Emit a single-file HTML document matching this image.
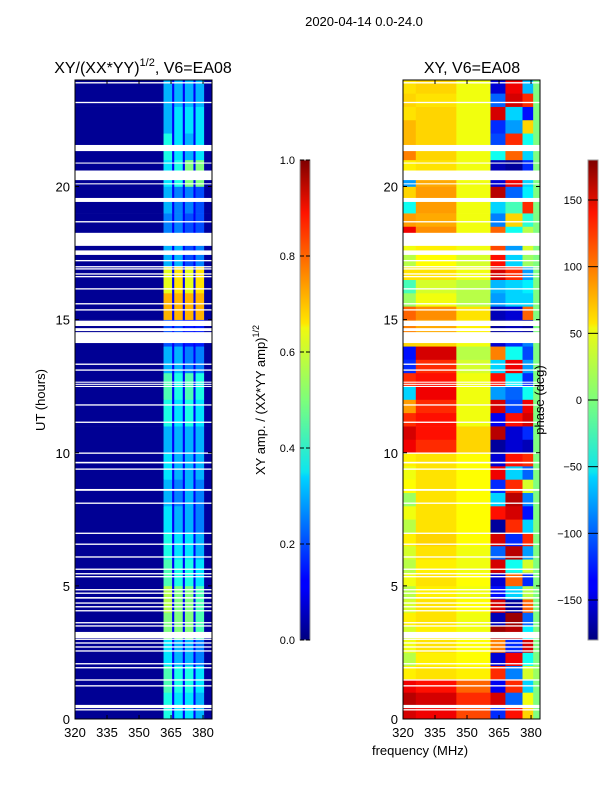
<!DOCTYPE html>
<html><head><meta charset="utf-8"><style>
html,body{margin:0;padding:0;background:#fff;}
svg{display:block;font-family:"Liberation Sans","DejaVu Sans",sans-serif;}
</style></head><body>
<svg id="fig" width="600" height="800" viewBox="0 0 600 800" xmlns="http://www.w3.org/2000/svg">
<defs>
<linearGradient id="jet" x1="0" y1="1" x2="0" y2="0">
<stop offset="0" stop-color="#00007f"/><stop offset="0.11" stop-color="#0000ff"/>
<stop offset="0.125" stop-color="#0000ff"/><stop offset="0.34" stop-color="#00d4ff"/>
<stop offset="0.35" stop-color="#0ce5ef"/><stop offset="0.5" stop-color="#7dff7a"/>
<stop offset="0.65" stop-color="#f0f90f"/><stop offset="0.66" stop-color="#ffe600"/>
<stop offset="0.89" stop-color="#ff1300"/><stop offset="1" stop-color="#7f0000"/>
</linearGradient>
</defs>
<text x="364" y="26" font-size="13" text-anchor="middle">2020-04-14 0.0-24.0</text>
<g id="left"></g>
<g id="right"></g>
<text x="143" y="73" font-size="16" text-anchor="middle">XY/(XX*YY)<tspan font-size="11" dy="-7">1/2</tspan><tspan dy="7">, V6=EA08</tspan></text>
<text x="472" y="73" font-size="16" text-anchor="middle">XY, V6=EA08</text>
<text x="0" y="0" font-size="13" text-anchor="middle" transform="translate(45,400) rotate(-90)">UT (hours)</text>
<text x="420" y="755" font-size="13" text-anchor="middle">frequency (MHz)</text>
<rect x="300" y="160" width="10" height="480" fill="url(#jet)" stroke="#999" stroke-width="1"/>
<rect x="588" y="160" width="10" height="480" fill="url(#jet)" stroke="#999" stroke-width="1"/>
<text font-size="13" text-anchor="middle" transform="translate(265,400) rotate(-90)">XY amp. / (XX*YY amp)<tspan font-size="9" dy="-6">1/2</tspan></text>
<text font-size="13" text-anchor="middle" transform="translate(544,400) rotate(-90)">phase (deg)</text>
<g id="cb"></g>
</svg>
<script>
// ---------- data ----------
const hourTicks = [0, 5, 10, 15, 20];
const freqTicks = [320, 335, 350, 365, 380];
const ampTicks = [0.0, 0.2, 0.4, 0.6, 0.8, 1.0];
const phaseTicks = [-150, -100, -50, 0, 50, 100, 150];
// amplitude: frequency segment edges (MHz)
const ampEdges = [320, 361.5, 365.5, 366.5, 370.5, 371.5, 375.5, 376.5, 380.5, 384.2];
const ampBaseLow = 0.02;
const ampBetween = 0.12;
const ampRight = 0.03;
// hourly amplitude per bright column (hours 0..23)
const ampColD = [0.4,0.45,0.35,0.5,0.55,0.45,0.4,0.35,0.3,0.35,0.3,0.4,0.45,0.3,0.2,0.7,0.6,0.3,0.25,0.3,0.35,0.4,0.3,0.3];
const ampColE = [0.35,0.4,0.3,0.5,0.5,0.4,0.35,0.3,0.25,0.3,0.3,0.35,0.4,0.3,0.2,0.7,0.65,0.3,0.25,0.25,0.4,0.35,0.35,0.3];
const ampColF = [0.35,0.4,0.3,0.5,0.5,0.4,0.35,0.3,0.3,0.3,0.3,0.4,0.45,0.25,0.15,0.7,0.6,0.2,0.2,0.25,0.5,0.3,0.35,0.3];
const ampColG = [0.3,0.35,0.25,0.45,0.45,0.35,0.3,0.25,0.25,0.3,0.3,0.35,0.4,0.25,0.15,0.7,0.65,0.25,0.2,0.2,0.5,0.35,0.35,0.3];
// phase: frequency segment edges and half-hour rows (deg)
const phaseEdges = [320, 326, 345, 361, 368, 376, 381, 384.2];
const phaseRows = [
[150,140,110,-120,130,60,0],[160,150,120,150,-100,40,0],[140,130,100,-140,120,-60,0],[50,55,50,120,-90,30,10],
[20,50,45,-150,140,-40,0],[40,55,45,90,-120,150,0],[30,50,40,170,160,-50,0],[50,55,40,-160,170,-100,0],
[30,55,45,150,-170,100,0],[20,50,40,-130,-60,20,0],[40,55,45,-150,100,-120,0],[20,50,40,150,-40,30,0],
[30,55,40,-100,160,-80,0],[50,60,45,150,-120,120,0],[20,55,45,-170,120,-60,0],[40,55,45,130,150,-130,0],
[10,55,45,-60,160,-90,0],[45,55,45,-120,120,30,0],[40,55,45,140,-60,-100,0],[50,55,45,-150,130,120,0],
[140,120,60,-170,-150,-160,0],[150,130,60,160,-150,-120,0],[120,130,40,-140,130,150,0],[80,120,40,150,-110,140,0],
[-60,140,40,-80,-100,-40,0],[120,130,40,130,-50,-120,0],[-120,120,30,-60,140,-80,0],[-130,150,20,90,-40,-110,0],
[60,60,40,-150,-120,-90,0],[90,75,50,-170,-160,-170,0],[100,85,55,-160,-150,100,0],[10,40,20,-80,-60,-60,0],
[-20,30,20,-70,-60,-50,0],[55,55,40,150,120,-80,0],[20,45,30,130,-60,10,0],[40,50,40,110,-80,30,0],
[140,85,40,100,-40,20,0],[80,75,40,-90,60,-30,0],[-40,80,40,-60,-20,120,0],[60,80,40,160,-100,-50,0],
[-80,75,40,-150,140,-60,0],[50,55,40,-160,-170,-120,0],[90,60,40,-40,100,-60,0],[70,60,40,-110,120,-40,0],
[70,60,40,-120,-80,60,0],[55,60,40,150,-60,-130,0],[60,55,40,-100,150,120,0],[55,60,40,-150,140,-70,0]
];
// flagged (missing) time ranges, hours
const gapStart = [23.87,23.13,21.33,20.86,20.24,20.08,19.42,18.65,17.77,17.43,17.19,16.96,16.88,16.69,16.59,16.13,15.57,15.34,14.76,14.57,14.12,13.30,13.08,12.47,12.55,12.63,11.77,11.12,9.96,9.60,9.36,8.57,8.08,6.95,6.54,6.06,5.60,5.43,5.32,4.83,4.70,4.52,4.33,4.19,4.04,3.59,3.47,3.04,2.97,2.83,2.68,2.53,2.05,1.90,1.44,1.22,0.41,0.32];
const gapEnd   = [23.92,23.18,21.56,20.90,20.60,20.12,19.57,18.70,18.26,17.60,17.24,17.01,16.93,16.74,16.64,16.18,15.62,15.39,14.96,14.68,14.53,13.35,13.13,12.51,12.59,12.67,11.82,11.17,10.01,9.66,9.41,8.64,8.13,7.00,6.59,6.11,5.65,5.48,5.37,4.88,4.75,4.58,4.38,4.24,4.09,3.64,3.52,3.27,3.02,2.88,2.73,2.58,2.10,1.95,1.49,1.27,0.53,0.37];

// ---------- helpers ----------
const NS = "http://www.w3.org/2000/svg";
function jet(v){v=Math.max(0,Math.min(1,v));
  const r=Math.max(0,Math.min(1,1.5-Math.abs(4*v-3)));
  const g=Math.max(0,Math.min(1,1.5-Math.abs(4*v-2)));
  const b=Math.max(0,Math.min(1,1.5-Math.abs(4*v-1)));
  return `rgb(${Math.round(r*255)},${Math.round(g*255)},${Math.round(b*255)})`;}
const FMIN=320, FMAX=384.2, AXW=137, Y0=719, Y1=80;
function yScale(h){return Y0-(h/24)*(Y0-Y1);}
function xScaleL(f){return 75+(f-FMIN)/(FMAX-FMIN)*AXW;}
function xScaleR(f){return 403+(f-FMIN)/(FMAX-FMIN)*AXW;}
function ampScale(v){return 640-v*480;}
function phaseScale(p){return 400-p*(240/180);}
function mk(tag,attrs,parent){const e=document.createElementNS(NS,tag);for(const k in attrs)e.setAttribute(k,attrs[k]);parent.appendChild(e);return e;}

// ---------- left panel (amplitude) ----------
const L=document.getElementById('left');
for(let i=0;i<24;i++){
  const vals=[ampBaseLow,ampColD[i],ampBetween,ampColE[i],ampBetween,ampColF[i],ampBetween,ampColG[i],ampRight];
  for(let j=0;j<vals.length;j++){
    const x0=xScaleL(ampEdges[j]),x1=xScaleL(ampEdges[j+1]);
    const r=mk('rect',{x:x0,y:yScale(i+1),width:x1-x0+0.3,height:yScale(i)-yScale(i+1)+0.3,fill:jet(vals[j])},L);
    
    
  }
}
// ---------- right panel (phase) ----------
const R=document.getElementById('right');
for(let i=0;i<phaseRows.length;i++){
  const row=phaseRows[i];
  for(let j=0;j<row.length;j++){
    const x0=xScaleR(phaseEdges[j]),x1=xScaleR(phaseEdges[j+1]);
    const r=mk('rect',{x:x0,y:yScale((i+1)*0.5),width:x1-x0+0.3,height:yScale(i*0.5)-yScale((i+1)*0.5)+0.3,fill:jet((row[j]+180)/360)},R);
    
    
  }
}
// gaps + axes for both panels
[[L,xScaleL,'left'],[R,xScaleR,'right']].forEach(([G,xs,nm])=>{
  for(let k=0;k<gapStart.length;k++){
    const g=mk('rect',{x:xs(FMIN),y:yScale(gapEnd[k]),width:AXW,height:Math.max(1,yScale(gapStart[k])-yScale(gapEnd[k])),fill:'#fff'},G);
    
    
  }
  const fr=mk('rect',{x:xs(FMIN),y:Y1,width:AXW,height:Y0-Y1,fill:'none',stroke:'#000','stroke-width':1},G);
  
  
  freqTicks.forEach(f=>{
    const x=xs(f);
    mk('line',{x1:x,x2:x,y1:Y0,y2:Y0-4,stroke:'#000'},G);
    mk('line',{x1:x,x2:x,y1:Y1,y2:Y1+4,stroke:'#000'},G);
    const t=mk('text',{x:x,y:Y0+18,'font-size':13,'text-anchor':'middle'},G);
    t.textContent=f;
    
    
  });
  hourTicks.forEach(h=>{
    const y=yScale(h);
    mk('line',{x1:xs(FMIN),x2:xs(FMIN)+4,y1:y,y2:y,stroke:'#000'},G);
    mk('line',{x1:xs(FMAX),x2:xs(FMAX)-4,y1:y,y2:y,stroke:'#000'},G);
    const t=mk('text',{x:xs(FMIN)-5,y:y+5,'font-size':13,'text-anchor':'end'},G);
    t.textContent=h;
    
    
  });
});
// ---------- colorbar ticks ----------
const C=document.getElementById('cb');
ampTicks.forEach(v=>{
  const y=ampScale(v);
  mk('line',{x1:300,x2:304,y1:y,y2:y,stroke:'#000'},C);
  mk('line',{x1:310,x2:306,y1:y,y2:y,stroke:'#000'},C);
  const t=mk('text',{x:295,y:y+4,'font-size':11,'text-anchor':'end'},C);
  t.textContent=v.toFixed(1);
  
  
});
phaseTicks.forEach(v=>{
  const y=phaseScale(v);
  mk('line',{x1:588,x2:598,y1:y,y2:y,stroke:'#000'},C);
  const t=mk('text',{x:582,y:y+4,'font-size':11,'text-anchor':'end'},C);
  t.textContent=v<0?'\u2212'+Math.abs(v):String(v);
  
  
});
</script>
</body></html>
